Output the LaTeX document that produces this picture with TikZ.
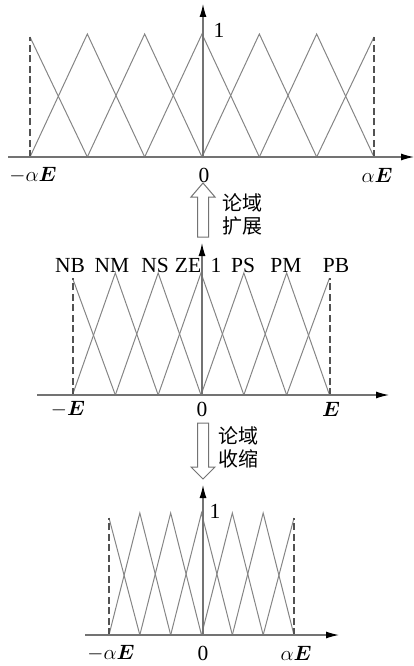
\documentclass[tikz,border=0pt]{standalone}
\usepackage{fontspec}
\usepackage{bm}
\setmainfont{Liberation Serif}
\newfontfamily\cjk{Noto Sans CJK SC}
\usetikzlibrary{arrows.meta}
\newcommand{\mfpanel}[5]{%
  \pgfmathsetmacro{\mfs}{#2/3}%
  \foreach \k in {-2,...,2}{%
    \draw[mf] ({#1+(\k-1)*\mfs},#3) -- ({#1+\k*\mfs},#4) -- ({#1+(\k+1)*\mfs},#3);
  }%
  \draw[mf] ({#1-#2},#5) -- ({#1-2*\mfs},#3);
  \draw[mf] ({#1+2*\mfs},#3) -- ({#1+#2},#5);
  \draw[edgeline] ({#1-#2},#3) -- ({#1-#2},#5);
  \draw[edgeline] ({#1+#2},#3) -- ({#1+#2},#5);
}
\tikzset{
  mf/.style={draw=black!48, line width=1pt},
  edgeline/.style={draw=black!68, line width=2pt, dash pattern=on 7pt off 3.5pt},
  axis/.style={draw=black!55, line width=1.2pt, -{Latex[length=13pt,width=7pt,color=black]}},
  lab/.style={font=\fontsize{21.5}{25}\selectfont, inner sep=1pt},
  cn/.style={font=\cjk\fontsize{20}{23}\selectfont, align=left, inner sep=0pt},
  hollow/.style={draw=black!55, fill=white, line width=1pt, line join=miter},
}
\begin{document}
\begin{tikzpicture}[x=1pt,y=-1pt]
\useasboundingbox (0,0) rectangle (414,666);
% ---------- top panel ----------
\mfpanel{202}{172}{157}{34}{37}
\coordinate (tx0) at (8,157);
\coordinate (tx1) at (414,157);
\coordinate (ty0) at (203,157);
\coordinate (ty1) at (203,4);
\draw[axis] (tx0) -- (tx1);
\draw[axis] (ty0) -- (ty1);
\node[lab] (tone) at (219,30) {1};
\node[lab] (tneg) at (33,175) {$-\alpha\bm{E}$};
\node[lab] (tzero) at (204,175) {0};
\node[lab] (tpos) at (377,175) {$\alpha\bm{E}$};
% ---------- expansion arrow ----------
\draw[hollow] (197.5,237) -- (197.5,197) -- (191,197) -- (203,183) -- (215,197) -- (208.5,197) -- (208.5,237) -- cycle;
\node[cn, anchor=west] (expand) at (222,214) {论域\\扩展};
% ---------- middle panel ----------
\mfpanel{201}{128.5}{395}{273}{278}
\coordinate (mx0) at (37,395);
\coordinate (mx1) at (389,395);
\coordinate (my0) at (202,395);
\coordinate (my1) at (202,243);
\draw[axis] (mx0) -- (mx1);
\draw[axis] (my0) -- (my1);
\node[lab] (nb) at (70,265) {NB};
\node[lab] (nm) at (112,265) {NM};
\node[lab] (ns) at (155,265) {NS};
\node[lab] (ze) at (188,265) {ZE};
\node[lab] (mone) at (216,265) {1};
\node[lab] (ps) at (243,265) {PS};
\node[lab] (pm) at (286,265) {PM};
\node[lab] (pb) at (336,265) {PB};
\node[lab] (mneg) at (68,409) {$-\bm{E}$};
\node[lab] (mzero) at (202,409) {0};
\node[lab] (mpos) at (331,409) {$\bm{E}$};
% ---------- contraction arrow ----------
\draw[hollow] (197.5,423) -- (197.5,467) -- (191,467) -- (203,479) -- (215,467) -- (208.5,467) -- (208.5,423) -- cycle;
\node[cn, anchor=west] (shrink) at (218,447) {论域\\收缩};
% ---------- bottom panel ----------
\mfpanel{201.5}{92.5}{635}{513}{518}
\coordinate (bx0) at (85,635);
\coordinate (bx1) at (339,635);
\coordinate (by0) at (203,635);
\coordinate (by1) at (203,485);
\draw[axis] (bx0) -- (bx1);
\draw[axis] (by0) -- (by1);
\node[lab] (bone) at (215,511) {1};
\node[lab] (bneg) at (111,653) {$-\alpha\bm{E}$};
\node[lab] (bzero) at (203,653) {0};
\node[lab] (bpos) at (296,653) {$\alpha\bm{E}$};
\end{tikzpicture}
\end{document}
